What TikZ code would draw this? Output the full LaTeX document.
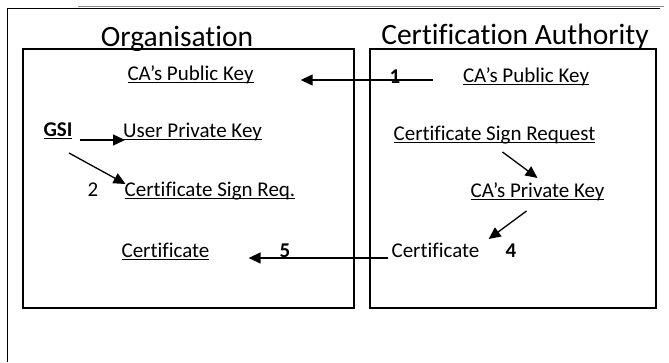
\documentclass[tikz,border=0pt]{standalone}
\usepackage{fontspec}
\setmainfont{Carlito}[Ligatures={NoCommon}]
\usetikzlibrary{arrows.meta,calc}
\newsavebox{\ulbox}
\newcommand{\ulin}[1]{\sbox{\ulbox}{#1}\rlap{\rule[-2.8pt]{\wd\ulbox}{1.3pt}}\usebox{\ulbox}}
\tikzset{
  frame/.style={black,line width=1.4pt},
  part/.style={draw=black,line width=1.4pt},
  flow/.style={-{Triangle[length=12pt,width=11pt]},line width=1.3pt},
  item/.style={anchor=base,inner sep=0pt,font=\fontsize{21}{25}\selectfont},
  title/.style={anchor=base,inner sep=0pt,font=\fontsize{29.5}{34}\selectfont},
  num/.style={item,font=\fontsize{21}{25}\selectfont\bfseries},
}

\begin{document}
\begin{tikzpicture}[x=1pt,y=-1pt]
  \path[use as bounding box] (0,0) rectangle (669,362);
  \draw[frame] (7.5,362) -- (7.5,8.5) -- (660,8.5);
  \draw[black!45,line width=0.8pt] (78,6) -- (664,6);

  \node[title] (orgtitle) at (177,46) {Organisation};
  \node[title] (catitle) at (515,44) {Certification Authority};
  \draw[part] (23,49) rectangle (354,308);
  \draw[part] (370,49) rectangle (656,308);

  % organisation side
  \node[item] (orgpub) at (190.5,80) {\ulin{CA’s Public Key}};
  \node[num] (gsi) at (58,136) {\ulin{GSI}};
  \node[item] (userkey) at (192.5,137) {\ulin{User Private Key}};
  \node[item] (csreq) at (210,196) {\ulin{Certificate Sign Req.}};
  \node[item] (orgcert) at (165.5,257) {\ulin{Certificate}};
  \node[item] (lab2) at (93,196) {2};

  % certification authority side
  \node[item] (capub) at (526,82) {\ulin{CA’s Public Key}};
  \node[item] (csr) at (494.5,140) {\ulin{Certificate Sign Request}};
  \node[item] (caprivkey) at (537.5,197) {\ulin{CA’s Private Key}};
  \node[item] (cacert) at (435.5,257) {Certificate};
  \node[num] (lab1) at (395,83) {1};
  \node[num] (lab4) at (511,257) {4};
  \node[num] (lab5) at (285,257) {5};

  \draw[flow] ($(capub.base west)+(-30,-2)$) -- ($(orgpub.base east)+(47,0)$);
  \draw[flow] ($(gsi.base east)+(7,4)$) -- ($(userkey.base west)+(2,3)$);
  \draw[flow] ($(gsi.base)+(11,17)$) -- ($(csreq.base west)+(1,-12)$);
  \draw[flow] ($(csr.base)+(8,12)$) -- ($(caprivkey.base)+(0,-19)$);
  \draw[flow] ($(caprivkey.base)+(-11,14)$) -- ($(cacert.base east)+(9,-18)$);
  \draw[flow] ($(cacert.base west)+(-3,1)$) -- ($(orgcert.base east)+(39,1)$);
\end{tikzpicture}
\end{document}
